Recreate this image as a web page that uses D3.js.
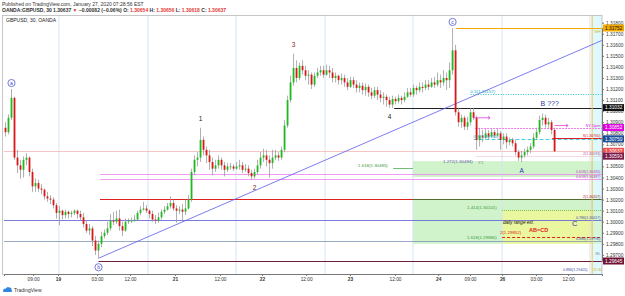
<!DOCTYPE html>
<html>
<head>
<meta charset="utf-8">
<script src="https://cdn.jsdelivr.net/npm/d3@7"></script>
<style>
  body { margin: 0; background: #fff; }
  svg { display: block; font-family: "Liberation Sans", Arial, sans-serif; }
</style>
</head>
<body>
<svg id="chart" width="625" height="296"></svg>
<script>
// GBPUSD candles (open of each bar = previous close)
const firstOpen = 1.3085;
const closes = [
  1.3081,1.3094,1.3112,1.3058,1.3051,1.3047,1.3056,1.3058,1.3045,1.3032,
  1.3035,1.3030,1.3029,1.3023,1.3021,1.3020,1.3015,1.3008,1.3010,1.3006,
  1.3009,1.3007,1.3008,1.3010,1.3007,1.3004,1.2998,1.2992,1.2994,1.2983,
  1.2974,1.2980,1.2987,1.2990,1.2994,1.3001,1.3000,1.3003,1.2996,1.2992,
  1.3000,1.3001,1.3001,1.3002,1.3008,1.3011,1.3012,1.3010,1.3007,1.3002,
  1.3001,1.3004,1.3009,1.3011,1.3014,1.3017,1.3012,1.3010,1.3011,1.3009,
  1.3012,1.3020,1.3045,1.3056,1.3058,1.3074,1.3065,1.3060,1.3054,1.3048,
  1.3051,1.3056,1.3051,1.3047,1.3050,1.3050,1.3048,1.3050,1.3051,1.3047,
  1.3048,1.3044,1.3041,1.3045,1.3051,1.3058,1.3060,1.3056,1.3053,1.3058,
  1.3060,1.3058,1.3065,1.3087,1.3110,1.3126,1.3139,1.3130,1.3141,1.3137,
  1.3132,1.3133,1.3124,1.3132,1.3135,1.3137,1.3133,1.3137,1.3135,1.3130,
  1.3132,1.3128,1.3130,1.3126,1.3122,1.3128,1.3124,1.3121,1.3123,1.3119,
  1.3122,1.3117,1.3114,1.3119,1.3115,1.3112,1.3113,1.3110,1.3106,1.3111,
  1.3109,1.3112,1.3110,1.3113,1.3117,1.3115,1.3121,1.3119,1.3122,1.3121,
  1.3124,1.3122,1.3126,1.3124,1.3128,1.3126,1.3130,1.3128,1.3137,1.3155,
  1.3099,1.3090,1.3094,1.3086,1.3090,1.3099,1.3094,1.3074,1.3078,1.3076,
  1.3080,1.3077,1.3081,1.3078,1.3080,1.3074,1.3077,1.3072,1.3074,1.3071,
  1.3063,1.3058,1.3060,1.3063,1.3065,1.3068,1.3076,1.3081,1.3092,1.3094,
  1.3088,1.3090,1.3083,1.30637
];
const highs = [
  1.3090,1.3097,1.3120,1.3113,1.3065,1.3056,1.3059,1.3062,1.3059,1.3048,
  1.3039,1.3038,1.3034,1.3030,1.3027,1.3024,1.3022,1.3017,1.3014,1.3011,
  1.3011,1.3010,1.3010,1.3011,1.3011,1.3010,1.3008,1.3001,1.2998,1.2996,
  1.2987,1.2983,1.2991,1.2993,1.3000,1.3007,1.3009,1.3010,1.3011,1.3000,
  1.3003,1.3003,1.3004,1.3006,1.3010,1.3014,1.3018,1.3015,1.3011,1.3010,
  1.3006,1.3008,1.3011,1.3014,1.3017,1.3023,1.3020,1.3015,1.3014,1.3016,
  1.3020,1.3024,1.3048,1.3060,1.3063,1.3085,1.3077,1.3068,1.3065,1.3058,
  1.3056,1.3060,1.3058,1.3054,1.3053,1.3053,1.3052,1.3054,1.3056,1.3054,
  1.3052,1.3051,1.3047,1.3048,1.3056,1.3063,1.3066,1.3065,1.3060,1.3065,
  1.3065,1.3063,1.3068,1.3092,1.3114,1.3132,1.3152,1.3146,1.3144,1.3146,
  1.3141,1.3137,1.3135,1.3135,1.3139,1.3141,1.3141,1.3142,1.3141,1.3139,
  1.3135,1.3133,1.3134,1.3133,1.3130,1.3131,1.3131,1.3128,1.3126,1.3126,
  1.3125,1.3124,1.3121,1.3122,1.3122,1.3119,1.3117,1.3115,1.3113,1.3114,
  1.3113,1.3115,1.3114,1.3117,1.3121,1.3121,1.3124,1.3123,1.3126,1.3126,
  1.3128,1.3128,1.3130,1.3131,1.3135,1.3133,1.3137,1.3135,1.3144,1.31752,
  1.3160,1.3103,1.3097,1.3096,1.3095,1.3103,1.3103,1.3096,1.3085,1.3083,
  1.3084,1.3083,1.3084,1.3083,1.3084,1.3082,1.3080,1.3080,1.3076,1.3076,
  1.3074,1.3065,1.3064,1.3066,1.3068,1.3071,1.3080,1.3085,1.3096,1.3098,
  1.3097,1.3094,1.3092,1.3085
];
const lows = [
  1.3077,1.3079,1.3092,1.3056,1.3044,1.3039,1.3040,1.3051,1.3041,1.3027,
  1.3027,1.3027,1.3025,1.3020,1.3018,1.3016,1.3012,1.3003,1.2997,1.3002,
  1.3003,1.3003,1.3004,1.3006,1.3003,1.3001,1.2995,1.2990,1.2988,1.2978,
  1.2970,1.2967,1.2977,1.2985,1.2988,1.2992,1.2997,1.2998,1.2992,1.2987,
  1.2991,1.2998,1.2999,1.3000,1.3001,1.3006,1.3010,1.3008,1.3003,1.3000,
  1.2998,1.2999,1.3002,1.3007,1.3010,1.3012,1.3010,1.2999,1.3007,1.3000,
  1.3006,1.3011,1.3018,1.3042,1.3050,1.3054,1.3060,1.3053,1.3047,1.3042,
  1.3045,1.3048,1.3047,1.3041,1.3045,1.3047,1.3046,1.3047,1.3047,1.3044,
  1.3045,1.3041,1.3038,1.3039,1.3043,1.3048,1.3054,1.3050,1.3040,1.3048,
  1.3056,1.3055,1.3056,1.3063,1.3085,1.3108,1.3123,1.3126,1.3128,1.3133,
  1.3128,1.3124,1.3120,1.3122,1.3130,1.3132,1.3130,1.3132,1.3130,1.3126,
  1.3126,1.3124,1.3124,1.3122,1.3119,1.3121,1.3121,1.3117,1.3117,1.3115,
  1.3114,1.3113,1.3111,1.3112,1.3110,1.3108,1.3106,1.3104,1.3103,1.3103,
  1.3106,1.3107,1.3106,1.3108,1.3112,1.3113,1.3113,1.3115,1.3117,1.3117,
  1.3119,1.3119,1.3121,1.3121,1.3122,1.3121,1.3123,1.3119,1.3121,1.3133,
  1.3096,1.3086,1.3085,1.3083,1.3083,1.3087,1.3092,1.3065,1.3068,1.3072,
  1.3074,1.3074,1.3076,1.3076,1.3077,1.3065,1.3070,1.3066,1.3069,1.3068,
  1.3060,1.3055,1.3054,1.3058,1.3060,1.3062,1.3066,1.3074,1.3079,1.3087,
  1.3085,1.3085,1.3079,1.3063
];

// time axis (positions in bar units) and day separators
const timeLabels = ["09:00","19","03:00","12:00","21","12:00","22","12:00","23","12:00","24","09:00","26","03:00","12:00"];
const timeAt     = [9.7, 18, 31, 42, 57, 72, 86, 100.7, 115.3, 130.3, 144.7, 155.3, 166, 177.3, 188];
const dayLines   = [18.3, 48, 77.3, 107, 136.3, 166, 195.3];
const priceTicks = [1.297,1.298,1.299,1.300,1.301,1.302,1.303,1.304,1.305,1.306,1.307,1.308,1.309,1.310,1.311,1.312,1.313,1.314,1.315,1.316,1.317,1.318];

// price markers on the right scale
const markerPrices = [1.31752, 1.31032, 1.30852, 1.30750, 1.30637, 1.30593, 1.29645];
const markerColors = ["#f2a900", "#111", "#e000e0", "#1c4f9c", "#f0504d", "#7a1b4a", "#701235"];

// drawn levels: price, from bar, to bar
const levels = [
  {p: 1.31752, from: 150.7, to: 199.3, kind: "orange"},
  {p: 1.31157, from: 155.5, to: 199.3, kind: "tealDot"},
  {p: 1.31032, from: 130,   to: 199.3, kind: "black"},
  {p: 1.30852, from: 157,   to: 199.3, kind: "magentaDot"},
  {p: 1.30760, from: 182.7, to: 199.3, kind: "red"},
  {p: 1.30750, from: 156.5, to: 199.3, kind: "tealDash"},
  {p: 1.30637, from: 0,     to: 199.3, kind: "last"},
  {p: 1.30593, from: 157.5, to: 199.3, kind: "pinkDot"},
  {p: 1.30430, from: 32,    to: 199.3, kind: "pink"},
  {p: 1.30387, from: 32,    to: 199.3, kind: "pink"},
  {p: 1.30485, from: 129.7, to: 136.3, kind: "green"},
  {p: 1.30207, from: 32,    to: 136.3, kind: "red"},
  {p: 1.30207, from: 136.3, to: 199.3, kind: "olive"},
  {p: 1.30107, from: 166,   to: 199.3, kind: "greenDot"},
  {p: 1.30017, from: 0,     to: 199.3, kind: "blue"},
  {p: 1.29865, from: 166,   to: 199.3, kind: "redDash"},
  {p: 1.29830, from: 0,     to: 199.3, kind: "steel"},
  {p: 1.29645, from: 31.5,  to: 199.3, kind: "maroon"}
];
const levelStyle = {
  orange:     ["#f2a900", 1, null],
  tealDot:    ["#26c6da", 1, "1,1.5"],
  black:      ["#222", 1, null],
  magentaDot: ["#f07cf0", 1, "2,1"],
  red:        ["#e02020", 1, null],
  tealDash:   ["#4dd0e1", 1.2, "4,2"],
  last:       ["#f4b5b5", 0.8, null],
  pinkDot:    ["#e8a0c8", 0.8, "1,1"],
  pink:       ["#ee82ee", 0.8, null],
  green:      ["#4caf50", 0.8, null],
  olive:      ["#556b2f", 1, null],
  greenDot:   ["#4caf50", 0.8, "1,1"],
  blue:       ["#5b5bd6", 0.8, null],
  redDash:    ["#e02020", 1, "3,2"],
  steel:      ["#7f95b5", 0.8, null],
  maroon:     ["#6d1f3a", 1.2, null]
};

// shaded zones: from bar, to bar, top price, bottom price
const zones = [
  {from: 136.3, to: 199.3, top: 1.30548, bottom: 1.30405, fill: "rgba(120,220,110,0.35)"},
  {from: 136.3, to: 199.3, top: 1.30207, bottom: 1.29800, fill: "rgba(120,220,110,0.35)"},
  {from: 166,   to: 199.3, top: 1.30107, bottom: 1.29800, fill: "rgba(255,250,120,0.55)"},
  {from: 196,   to: 199.3, top: 1.3190,  bottom: 1.2952,  fill: "rgba(200,245,255,0.6)"}
];

// trend line and little arrows
const trend = [[31.5, 1.2967], [199.3, 1.3164]];
const arrows = [[[156.5, 1.3094], [162, 1.3094]], [[183.5, 1.3087], [188, 1.3087]]];

// wave labels on bars
const waveText = ["a", "b", "c", "1", "2", "3", "4", "A", "B ???"];
const waveBar  = [2, 31, 149, 65, 83, 96, 128, 172, 179];
const waveSide = ["up", "down", "up", "up", "down", "up", "down", "down", "up"];
const waveColor = ["#3b45c8", "#3b45c8", "#3b45c8", "#222", "#7a1d1d", "#8b1a1a", "#222", "#2a3aa8", "#2a3aa8"];

// small notes anchored at the right edge
const rightNotes = [
  {p: 1.31700, text: "WH", color: "#d8b000"},
  {p: 1.30852, text: "NY Open", color: "#e000e0"},
  {p: 1.30760, text: "S(1.30760)", color: "#e02020"},
  {p: 1.30593, text: "2(1.30593)", color: "#c0508a"},
  {p: 1.30430, text: "0.618(1.30430)", color: "#c040c0"},
  {p: 1.30387, text: "0.618(1.30387)", color: "#c040c0"},
  {p: 1.30207, text: "2(1.30207)", color: "#b02020"},
  {p: 1.30017, text: "0.786(1.30017)", color: "#3a4fb0"},
  {p: 1.29830, text: "0.886(1.29790)", color: "#3a4fb0"},
  {p: 1.29690, text: "ML", color: "#888"}
];
// notes anchored at a bar
const barNotes = [
  {at: 155.5, p: 1.31157, text: "0.5(1.31157)", color: "#1ea7c0"},
  {at: 156.5, p: 1.30750, text: "0.5(1.30750)", color: "#1ea7c0"},
  {at: 158,   p: 1.30510, text: "Y1", color: "#888"},
  {at: 118,   p: 1.30485, text: "1.618(1.30485)", color: "#3a9a3a"},
  {at: 146.3, p: 1.30520, text: "1.272(1.30494)", color: "#5a5aa0"},
  {at: 154.3, p: 1.30107, text: "1.414(1.30101)", color: "#3a9a3a"},
  {at: 165.3, p: 1.29880, text: "2(1.29852)", color: "#e02020"},
  {at: 154.3, p: 1.29835, text: "1.618(1.29880)", color: "#3a9a3a"}
];
// tiny notes near the bottom edge
const bottomNotes = [
  {at: 186.3, p: 1.29545, text: "0.886(1.29405)", color: "#3a4fb0"},
  {at: 196.4, p: 1.29545, text: "11:30", color: "#e0a000"}
];

const svg = d3.select("#chart");
const W = 625, H = 296;
const pL = 4, pR = 602, pT = 15, pB = 274;

const x = d3.scaleLinear().domain([0, 199.3]).range([pL, pR]);
const y = d3.scaleLinear().domain([1.29645, 1.31752]).range([261, 28]);

svg.append("rect").attr("width", W).attr("height", H).attr("fill", "#fff");

// header
const head = svg.append("g").attr("font-size", 5).attr("fill", "#333");
head.append("text").attr("x", 2).attr("y", 6).text("Published on TradingView.com, January 27, 2020 07:28:56 EST");
const l2 = head.append("text").attr("x", 2).attr("y", 12).attr("font-weight", "bold");
l2.append("tspan").text("OANDA:GBPUSD, 30 1.30637 ");
l2.append("tspan").attr("fill", "#e53935").text("▼");
l2.append("tspan").text(" −0.00082 (−0.06%) O: ");
l2.append("tspan").attr("fill", "#e53935").text("1.30654");
l2.append("tspan").text(" H: ");
l2.append("tspan").attr("fill", "#e53935").text("1.30656");
l2.append("tspan").text(" L: ");
l2.append("tspan").attr("fill", "#e53935").text("1.30618");
l2.append("tspan").text(" C: ");
l2.append("tspan").attr("fill", "#e53935").text("1.30637");

svg.append("defs").append("clipPath").attr("id", "plot")
  .append("rect").attr("x", pL).attr("y", pT).attr("width", pR - pL).attr("height", pB - pT);
const plot = svg.append("g").attr("clip-path", "url(#plot)");

// zones
plot.selectAll("rect.zone").data(zones).join("rect").attr("class", "zone")
  .attr("x", d => x(d.from)).attr("width", d => x(d.to) - x(d.from))
  .attr("y", d => y(d.top)).attr("height", d => y(d.bottom) - y(d.top))
  .attr("fill", d => d.fill);

// day separators
plot.selectAll("line.day").data(dayLines).join("line").attr("class", "day")
  .attr("x1", d => x(d)).attr("x2", d => x(d)).attr("y1", pT).attr("y2", pB)
  .attr("stroke", "#d6e4f3").attr("stroke-width", 1);

// levels
plot.selectAll("line.lvl").data(levels).join("line").attr("class", "lvl")
  .attr("x1", d => x(d.from)).attr("x2", d => x(d.to))
  .attr("y1", d => Math.round(y(d.p)) + 0.5).attr("y2", d => Math.round(y(d.p)) + 0.5)
  .attr("stroke", d => levelStyle[d.kind][0])
  .attr("stroke-width", d => levelStyle[d.kind][1])
  .attr("stroke-dasharray", d => levelStyle[d.kind][2]);

// orange vertical at the session edge
plot.append("line").attr("x1", x(196)).attr("x2", x(196)).attr("y1", pT).attr("y2", pB)
  .attr("stroke", "#f0c040").attr("stroke-width", 1);

// trend line
plot.append("line")
  .attr("x1", x(trend[0][0])).attr("y1", y(trend[0][1]))
  .attr("x2", x(trend[1][0])).attr("y2", y(trend[1][1]))
  .attr("stroke", "#5c5cf0").attr("stroke-width", 0.8);

// candles
const bars = closes.map((c, i) => {
  const o = i === 0 ? firstOpen : closes[i - 1];
  return {i, o, c, h: Math.max(highs[i], o, c), l: Math.min(lows[i], o, c)};
});
const cg = plot.append("g");
cg.selectAll("line").data(bars).join("line")
  .attr("x1", d => x(d.i + 0.5)).attr("x2", d => x(d.i + 0.5))
  .attr("y1", d => y(d.h)).attr("y2", d => y(d.l))
  .attr("stroke", "#9a9a9a").attr("stroke-width", 0.8);
cg.selectAll("rect").data(bars).join("rect")
  .attr("x", d => x(d.i) + 0.6).attr("width", 1.8)
  .attr("y", d => y(Math.max(d.o, d.c)))
  .attr("height", d => Math.max(0.8, Math.abs(y(d.o) - y(d.c))))
  .attr("fill", d => d.c >= d.o ? "#1fb91f" : "#d81818");

// arrows
arrows.forEach(a => {
  const x1 = x(a[0][0]), x2 = x(a[1][0]), yy = y(a[0][1]);
  plot.append("line").attr("x1", x1).attr("x2", x2).attr("y1", yy).attr("y2", yy)
    .attr("stroke", "#e040e0").attr("stroke-width", 0.8);
  plot.append("path").attr("d", `M${x2 - 2},${yy - 1.5}L${x2},${yy}L${x2 - 2},${yy + 1.5}`)
    .attr("fill", "none").attr("stroke", "#e040e0").attr("stroke-width", 0.8);
});

// wave labels
waveText.forEach((t, k) => {
  const b = bars[waveBar[k]];
  const cx = x(b.i + 0.5);
  const circled = k < 3;
  const cy = waveSide[k] === "up" ? y(b.h) - 6 : y(b.l) + 9;
  if (circled) {
    plot.append("circle").attr("cx", cx).attr("cy", cy).attr("r", 3.6)
      .attr("fill", "#fff").attr("stroke", waveColor[k]).attr("stroke-width", 0.7);
    plot.append("text").attr("x", cx).attr("y", cy + 1.8).attr("text-anchor", "middle")
      .attr("font-size", 5).attr("fill", waveColor[k]).text(t);
  } else {
    const isB = t.startsWith("B");
    plot.append("text").attr("x", isB ? cx - 2 : cx).attr("y", cy + (waveSide[k] === "up" ? -1 : 2))
      .attr("text-anchor", isB ? "start" : "middle")
      .attr("font-size", isB ? 7 : 6.5).attr("fill", waveColor[k]).text(t);
  }
});

// notes
plot.selectAll("text.rn").data(rightNotes).join("text").attr("class", "rn")
  .attr("x", x(199.3) - 1.5).attr("y", d => y(d.p) - 1)
  .attr("text-anchor", "end").attr("font-size", 3.6).attr("fill", d => d.color).text(d => d.text);
plot.selectAll("text.bn").data(barNotes).join("text").attr("class", "bn")
  .attr("x", d => x(d.at)).attr("y", d => y(d.p) - 1)
  .attr("font-size", 4.4).attr("fill", d => d.color).text(d => d.text);
plot.selectAll("text.btn").data(bottomNotes).join("text").attr("class", "btn")
  .attr("x", d => x(d.at)).attr("y", d => y(d.p) - 1)
  .attr("font-size", 3.6).attr("fill", d => d.color).text(d => d.text);

plot.append("text").attr("x", x(166.3)).attr("y", y(1.30017) + 4.5)
  .attr("font-size", 4.6).attr("font-style", "italic").attr("fill", "#111").text("daily range ext.");
plot.append("text").attr("x", x(175)).attr("y", y(1.29910))
  .attr("font-size", 5.5).attr("font-weight", "bold").attr("fill", "#e02020").text("AB=CD");
plot.append("text").attr("x", x(189.3)).attr("y", y(1.30017) + 6)
  .attr("font-size", 7.5).attr("fill", "#2a3aa8").text("C");

// legend
svg.append("text").attr("x", 6).attr("y", 22).attr("font-size", 5).attr("fill", "#222").text("GBPUSD, 30, OANDA");

// frame
svg.append("rect").attr("x", 2.5).attr("y", pT + 0.5).attr("width", pR - 2.5).attr("height", pB - pT)
  .attr("fill", "none").attr("stroke", "#b8b8b8").attr("stroke-width", 0.8);

// right axis
const ya = svg.append("g").attr("transform", `translate(${pR},0)`)
  .call(d3.axisRight(y).tickValues(priceTicks).tickFormat(d3.format(".5f")).tickSize(2).tickPadding(2));
ya.select(".domain").attr("stroke", "#777");
ya.selectAll(".tick line").attr("stroke", "#777");
ya.selectAll(".tick text").attr("font-size", 4.8).attr("fill", "#333").attr("font-family", "Liberation Sans, Arial, sans-serif");

// price markers
const mk = svg.append("g").selectAll("g").data(markerPrices).join("g")
  .attr("transform", d => `translate(${pR + 1},${y(d)})`);
mk.append("rect").attr("x", 0).attr("y", -3.5).attr("width", 21).attr("height", 7)
  .attr("fill", (d, i) => markerColors[i]);
mk.append("text").attr("x", 2).attr("y", 1.8).attr("font-size", 4.8)
  .attr("fill", (d, i) => i === 0 ? "#111" : "#fff").text(d => d3.format(".5f")(d));

// time axis
const xa = svg.append("g").attr("transform", `translate(0,${pB})`)
  .call(d3.axisBottom(x).tickValues(timeAt).tickFormat((d, i) => timeLabels[i]).tickSize(2).tickPadding(2));
xa.select(".domain").attr("stroke", "#777");
xa.selectAll(".tick line").attr("stroke", "#777");
xa.selectAll(".tick text").attr("font-size", 4.8).attr("fill", "#333")
  .attr("font-family", "Liberation Sans, Arial, sans-serif")
  .attr("font-weight", (d, i) => /:/.test(timeLabels[i]) ? "normal" : "bold");

// logo
const logo = svg.append("g").attr("transform", "translate(3,287)");
logo.append("path").attr("d", "M0,4 Q0,1 3,1.5 Q4,-1 6.5,0.5 Q9,0 8.5,3 Q10,4 8.5,5 L1,5 Q0,5 0,4Z").attr("fill", "#2e86de");
logo.append("text").attr("x", 11).attr("y", 5).attr("font-size", 5).attr("fill", "#333").text("TradingView");
</script>
</body>
</html>
